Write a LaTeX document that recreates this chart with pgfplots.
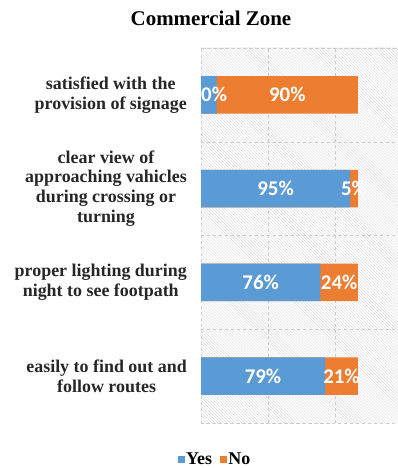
\documentclass[border=0pt]{standalone}
\usepackage{pgfplots}
\pgfplotsset{compat=1.18}
\usepackage{pgfplotstable}
\usepackage{fontspec}
\setmainfont{Liberation Serif}
\newfontfamily\labfont{Carlito}
\usetikzlibrary{patterns}
\definecolor{yesblue}{HTML}{5B9BD5}
\definecolor{noorange}{HTML}{ED7D31}

\pgfplotstableread{
pos yes no
0 79 21
1 76 24
2 95 5
3 10 90
}\datatable

\begin{document}
\begin{tikzpicture}
\path[use as bounding box] (0,0) rectangle (398bp,468bp);
\node[font=\bfseries\fontsize{21}{24}\selectfont] at (211bp,450bp) {Commercial Zone};
\begin{axis}[
  at={(201bp,45bp)}, anchor=south west,
  scale only axis, width=197bp, height=375bp,
  xmin=0, xmax=125.5, ymin=-0.5, ymax=3.5,
  xtick={0,42.68,85.35}, xticklabels={},
  ytick={0,1,2,3},
  yticklabels={{easily to find out and\\follow routes},{proper lighting during\\night to see footpath},{clear view of\\approaching vahicles\\during crossing or\\turning},{satisfied with the\\provision of signage}},
  yticklabel style={align=center, font=\bfseries\fontsize{18}{20}\selectfont, inner sep=0pt, xshift=-14bp, text=black!85},
  extra y ticks={-0.5,0.5,1.5,2.5,3.5}, extra y tick labels={},
  extra y tick style={grid=major},
  xmajorgrids, ymajorgrids=false,
  major grid style={gray!40, dashed},
  major tick length=0,
  axis line style={gray!35, dashed},
  axis background/.style={pattern=north west lines, pattern color=gray!28},
  legend style={draw=none, fill=none, legend columns=2, at={(axis description cs:0.071,-0.096)}, anchor=center, font=\bfseries\fontsize{18}{20}\selectfont, /tikz/every even column/.append style={column sep=6bp}},
  legend image code/.code={\fill[#1] (0bp,-3bp) rectangle (6bp,3bp);},
  lbl/.style={draw=none, mark=none, forget plot, point meta=explicit symbolic,
    nodes near coords={\pgfplotspointmeta\%},
    every node near coord/.append style={anchor=center, font=\labfont\bfseries\fontsize{21}{24}\selectfont, text=white}},
]
% No segment drawn under the Yes segment: it spans Yes+No
\addplot[xbar, bar width=0.4, bar shift=0pt, fill=noorange, draw=none, forget plot]
  table[x expr=\thisrow{yes}+\thisrow{no}, y=pos] {\datatable};
\addplot[xbar, bar width=0.4, bar shift=0pt, fill=yesblue, draw=none, forget plot]
  table[x=yes, y=pos] {\datatable};
% value labels at the middle of each segment
\addplot[lbl] table[x expr=\thisrow{yes}/2, y=pos, meta=yes] {\datatable};
\addplot[lbl] table[x expr=\thisrow{yes}+\thisrow{no}/2, y=pos, meta=no] {\datatable};
\addlegendimage{yesblue}\addlegendentry{Yes}
\addlegendimage{noorange}\addlegendentry{No}
\end{axis}
\end{tikzpicture}
\end{document}
